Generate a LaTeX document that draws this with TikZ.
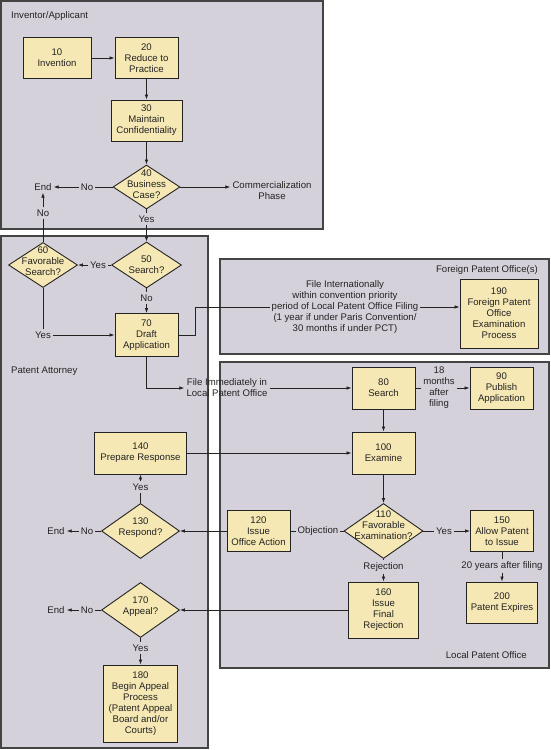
\documentclass[tikz,border=0pt]{standalone}
\usepackage{fontspec}
\setmainfont{Liberation Sans}
\usetikzlibrary{shapes.geometric}
\usetikzlibrary{arrows.meta}
\usetikzlibrary{positioning}
\definecolor{panelgray}{RGB}{213,209,218}
\definecolor{boxyellow}{RGB}{246,232,180}
\definecolor{inkgray}{RGB}{35,35,35}
\tikzset{
panel/.style={draw=inkgray!85, line width=1.3pt, fill=panelgray},
step_box/.style={rectangle, draw=inkgray, line width=0.9pt, fill=boxyellow, text=inkgray, align=center, minimum width=63pt, minimum height=41pt, inner sep=1pt},
decision/.style={diamond, draw=inkgray, line width=0.9pt, fill=boxyellow, inner sep=0pt},
dec_text/.style={align=center, inner sep=0pt, text=inkgray},
flow_label/.style={align=center, inner sep=2pt, text=inkgray},
panel_title/.style={inner sep=0pt, text=inkgray},
flow/.style={draw=inkgray, line width=0.8pt},
flow_arrow/.style={flow, -{Latex[length=5pt,width=3.6pt]}}
}

\begin{document}
\begin{tikzpicture}[x=1pt, y=-1pt, font=\fontsize{9.6}{11}\selectfont]
    \useasboundingbox (0,0) rectangle (550,750);
    \draw[panel] (1,1) rectangle (323,229);
    \draw[panel] (1,236) rectangle (208,748);
    \draw[panel] (220,259) rectangle (549,354);
    \draw[panel] (220,362) rectangle (549,668);
    \node[panel_title, anchor=west] (title_inv) at (11,16) {Inventor/Applicant};
    \node[panel_title, anchor=west] (title_att) at (11,371) {Patent Attorney};
    \node[panel_title, anchor=east] (title_for) at (538,270) {Foreign Patent Office(s)};
    \node[panel_title, anchor=east] (title_loc) at (527,655) {Local Patent Office};

    \node[step_box, minimum width=68pt] (box_10) at (57,58) {10\\Invention};
    \node[step_box] (box_20) at (146.5,58) {20\\Reduce to\\Practice};
    \node[step_box, minimum width=71pt] (box_30) at (146.5,120.5) {30\\Maintain\\Confidentiality};
    \node[decision, minimum width=67pt, minimum height=44pt, label={[dec_text, yshift=3pt]center:40\\Business\\Case?}] (dec_40) at (146.5,187) {};
    \node[flow_label] (no_40) at (87,187) {No};
    \node[flow_label] (end_40) at (43,187) {End};
    \node[flow_label] (comm) at (272,191) {Commercialization\\Phase};
    \node[flow_label] (yes_40) at (146.5,219) {Yes};
    \node[decision, minimum width=70pt, minimum height=46pt, label={[dec_text]center:50\\Search?}] (dec_50) at (146.5,265) {};
    \node[flow_label] (yes_50) at (98,265) {Yes};
    \node[decision, minimum width=69pt, minimum height=45pt, label={[dec_text, yshift=4pt]center:60\\Favorable\\Search?}] (dec_60) at (43,265) {};
    \node[flow_label] (no_60) at (43,213) {No};
    \node[flow_label] (no_50) at (146.5,298) {No};
    \node[step_box, minimum height=43pt] (box_70) at (146.5,335) {70\\Draft\\Application};
    \node[flow_label] (yes_60) at (43,335) {Yes};

    \node[flow_label] (file_intl) at (345,307) {File Internationally\\within convention priority\\period of Local Patent Office Filing\\(1 year if under Paris Convention/\\30 months if under PCT)};
    \node[step_box, minimum width=78pt, minimum height=69pt] (box_190) at (499,313.5) {190\\Foreign Patent\\Office\\Examination\\Process};
    \node[flow_label] (file_local) at (227,388) {File Immediately in\\Local Patent Office};
    \node[step_box, minimum height=42pt] (box_80) at (383.5,388) {80\\Search};
    \node[flow_label] (months) at (439,388) {18\\months\\after\\filing};
    \node[step_box, minimum height=42pt] (box_90) at (501.5,388) {90\\Publish\\Application};

    \node[step_box, minimum height=42pt] (box_100) at (383.5,453) {100\\Examine};
    \node[step_box, minimum width=92pt, minimum height=42pt] (box_140) at (140.5,453) {140\\Prepare Response};
    \node[decision, minimum width=79pt, minimum height=55pt, label={[dec_text, yshift=6pt]center:110\\Favorable\\Examination?}] (dec_110) at (383.5,531) {};
    \node[step_box] (box_120) at (258.5,531) {120\\Issue\\Office Action};
    \node[flow_label] (objection) at (318,531) {Objection};
    \node[flow_label] (yes_110) at (444,531) {Yes};
    \node[step_box] (box_150) at (502,531) {150\\Allow Patent\\to Issue};
    \node[flow_label] (years) at (502,566) {20 years after filing};
    \node[step_box, minimum width=71pt] (box_200) at (502,602.5) {200\\Patent Expires};
    \node[flow_label] (rejection) at (383.5,567) {Rejection};
    \node[step_box, minimum width=70pt, minimum height=56pt] (box_160) at (383.5,610) {160\\Issue\\Final\\Rejection};

    \node[decision, minimum width=78pt, minimum height=55pt, label={[dec_text, yshift=3pt]center:130\\Respond?}] (dec_130) at (140.5,531) {};
    \node[flow_label] (no_130) at (87,531) {No};
    \node[flow_label] (end_130) at (56,531) {End};
    \node[flow_label] (yes_130) at (140.5,487) {Yes};
    \node[decision, minimum width=78pt, minimum height=55pt, label={[dec_text, yshift=3pt]center:170\\Appeal?}] (dec_170) at (140.5,610) {};
    \node[flow_label] (no_170) at (87,610) {No};
    \node[flow_label] (end_170) at (56,610) {End};
    \node[flow_label] (yes_170) at (140.5,648) {Yes};
    \node[step_box, minimum width=74pt, minimum height=77pt] (box_180) at (140.5,703.5) {180\\Begin Appeal\\Process\\(Patent Appeal\\Board and/or\\Courts)};

    \draw[flow_arrow] (box_10) -- (box_20);
    \draw[flow_arrow] (box_20) -- (box_30);
    \draw[flow_arrow] (box_30) -- (dec_40);
    \draw[flow] (dec_40) -- (no_40);
    \draw[flow_arrow] (no_40) -- (end_40);
    \draw[flow_arrow] (dec_40.east) -- (dec_40.east -| comm.west);
    \draw[flow] (dec_40) -- (yes_40);
    \draw[flow_arrow] (yes_40) -- (dec_50);
    \draw[flow] (dec_50) -- (yes_50);
    \draw[flow_arrow] (yes_50) -- (dec_60);
    \draw[flow] (dec_60) -- (no_60);
    \draw[flow_arrow] (no_60) -- (end_40);
    \draw[flow] (dec_50) -- (no_50);
    \draw[flow_arrow] (no_50) -- (box_70);
    \draw[flow] (dec_60) -- (yes_60);
    \draw[flow_arrow] (yes_60) -- (box_70);
    \draw[flow] (box_70.east) -- ++(17,0) |- (file_intl.west);
    \draw[flow_arrow] (file_intl.east) -- (file_intl.east -| box_190.west);
    \draw[flow_arrow] (box_70.south) |- (file_local.west);
    \draw[flow_arrow] (file_local) -- (box_80);
    \draw[flow] (box_80) -- (months);
    \draw[flow_arrow] (months) -- (box_90);
    \draw[flow_arrow] (box_80) -- (box_100);
    \draw[flow_arrow] (box_140) -- (box_100);
    \draw[flow_arrow] (box_100) -- (dec_110);
    \draw[flow] (dec_110) -- (objection);
    \draw[flow] (objection) -- (box_120);
    \draw[flow_arrow] (box_120) -- (dec_130);
    \draw[flow] (dec_110) -- (yes_110);
    \draw[flow_arrow] (yes_110) -- (box_150);
    \draw[flow] (box_150) -- (years);
    \draw[flow_arrow] (years) -- (box_200);
    \draw[flow] (dec_110) -- (rejection);
    \draw[flow_arrow] (rejection) -- (box_160);
    \draw[flow_arrow] (box_160) -- (dec_170);
    \draw[flow] (dec_130) -- (no_130);
    \draw[flow_arrow] (no_130) -- (end_130);
    \draw[flow] (dec_130) -- (yes_130);
    \draw[flow_arrow] (yes_130) -- (box_140);
    \draw[flow] (dec_170) -- (no_170);
    \draw[flow_arrow] (no_170) -- (end_170);
    \draw[flow] (dec_170) -- (yes_170);
    \draw[flow_arrow] (yes_170) -- (box_180);
\end{tikzpicture}
\end{document}
